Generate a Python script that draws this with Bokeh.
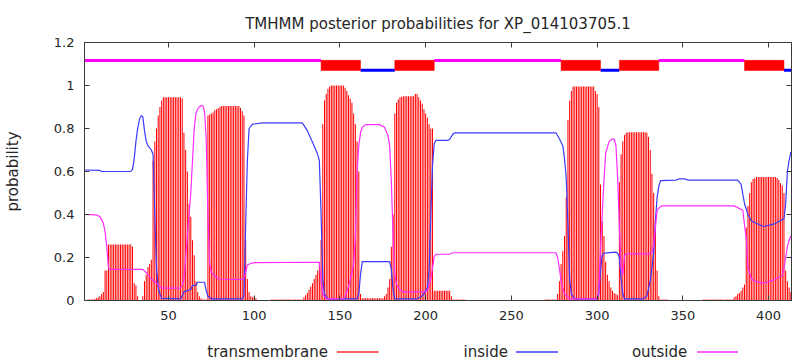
from bokeh.plotting import figure
from bokeh.models import Range1d, LinearAxis, FixedTicker, Label
from bokeh.layouts import column
from bokeh.embed import file_html
from bokeh.resources import INLINE

title_text = "TMHMM posterior probabilities for XP_014103705.1"
seq_len = 413

# posterior probability of transmembrane state, residue 1..413
tm_prob = [
    0.0, 0.0, 0.005, 0.005, 0.005, 0.005, 0.008, 0.01, 0.015, 0.02,
    0.03, 0.04, 0.14, 0.14, 0.26, 0.26, 0.26, 0.26, 0.26, 0.26,
    0.26, 0.26, 0.26, 0.26, 0.26, 0.26, 0.26, 0.26, 0.25, 0.08,
    0.07, 0.02, 0.0, 0.0, 0.02, 0.09, 0.12, 0.155, 0.17, 0.19,
    0.65, 0.74, 0.8, 0.86, 0.9, 0.93, 0.945, 0.945, 0.945, 0.945,
    0.945, 0.945, 0.945, 0.945, 0.945, 0.945, 0.945, 0.94, 0.78, 0.7,
    0.6, 0.45, 0.39, 0.28, 0.21, 0.09, 0.04, 0.02, 0.01, 0.005,
    0.005, 0.005, 0.86, 0.865, 0.87, 0.875, 0.885, 0.89, 0.895, 0.9,
    0.905, 0.905, 0.905, 0.905, 0.905, 0.905, 0.905, 0.905, 0.905, 0.905,
    0.905, 0.895, 0.88, 0.86, 0.28, 0.1, 0.04, 0.02, 0.015, 0.02,
    0.01, 0.002, 0.002, 0.002, 0.002, 0.002, 0.002, 0.002, 0.002, 0.005,
    0.005, 0.005, 0.005, 0.005, 0.005, 0.005, 0.005, 0.005, 0.005, 0.005,
    0.005, 0.005, 0.005, 0.005, 0.005, 0.005, 0.005, 0.005, 0.015, 0.025,
    0.035, 0.05, 0.065, 0.08, 0.1, 0.12, 0.14, 0.17, 0.28, 0.82,
    0.93, 0.96, 0.985, 0.995, 1.0, 1.0, 1.0, 1.0, 1.0, 1.0,
    1.0, 1.0, 0.99, 0.975, 0.955, 0.94, 0.92, 0.87, 0.82, 0.74,
    0.6, 0.03, 0.01, 0.01, 0.01, 0.01, 0.01, 0.01, 0.01, 0.01,
    0.01, 0.01, 0.01, 0.01, 0.01, 0.02, 0.03, 0.06, 0.1, 0.25,
    0.4, 0.87, 0.92, 0.935, 0.945, 0.948, 0.95, 0.95, 0.95, 0.95,
    0.95, 0.95, 0.95, 0.96, 0.96, 0.945, 0.93, 0.915, 0.89, 0.87,
    0.85, 0.82, 0.8, 0.8, 0.045, 0.045, 0.045, 0.045, 0.045, 0.045,
    0.045, 0.045, 0.045, 0.045, 0.02, 0.005, 0.005, 0.005, 0.005, 0.005,
    0.005, 0.005, 0.005, 0.0, 0.0, 0.0, 0.0, 0.0, 0.0, 0.0,
    0.0, 0.0, 0.0, 0.0, 0.0, 0.0, 0.0, 0.0, 0.0, 0.0,
    0.0, 0.0, 0.0, 0.0, 0.0, 0.0, 0.0, 0.0, 0.0, 0.0,
    0.0, 0.0, 0.0, 0.0, 0.0, 0.0, 0.0, 0.0, 0.0, 0.0,
    0.0, 0.0, 0.0, 0.0, 0.0, 0.0, 0.0, 0.0, 0.0, 0.005,
    0.005, 0.005, 0.005, 0.005, 0.005, 0.005, 0.03, 0.09, 0.17, 0.23,
    0.3, 0.48, 0.84, 0.93, 0.975, 0.995, 0.995, 0.995, 0.995, 0.995,
    0.995, 0.995, 0.995, 0.995, 0.995, 0.995, 0.995, 0.995, 0.975, 0.96,
    0.9, 0.54, 0.37, 0.3, 0.18, 0.12, 0.09, 0.06, 0.045, 0.035,
    0.03, 0.025, 0.55, 0.68, 0.74, 0.77, 0.78, 0.783, 0.783, 0.783,
    0.783, 0.783, 0.783, 0.783, 0.783, 0.783, 0.783, 0.783, 0.78, 0.76,
    0.7, 0.59, 0.5, 0.36, 0.14, 0.02, 0.005, 0.005, 0.005, 0.005,
    0.005, 0.0, 0.0, 0.0, 0.0, 0.0, 0.0, 0.0, 0.0, 0.0,
    0.0, 0.0, 0.0, 0.0, 0.0, 0.0, 0.0, 0.0, 0.0, 0.0,
    0.0, 0.005, 0.005, 0.005, 0.005, 0.005, 0.005, 0.005, 0.005, 0.005,
    0.005, 0.005, 0.005, 0.005, 0.005, 0.005, 0.005, 0.005, 0.005, 0.015,
    0.02, 0.03, 0.035, 0.045, 0.06, 0.075, 0.34, 0.44, 0.5, 0.55,
    0.565, 0.57, 0.575, 0.575, 0.575, 0.575, 0.575, 0.575, 0.575, 0.575,
    0.575, 0.575, 0.575, 0.575, 0.57, 0.56, 0.545, 0.535, 0.5, 0.14,
    0.09, 0.06, 0.04,
]
residues = list(range(1, seq_len + 1))

# inside probability curve (vertices)
inside_res = [1, 10, 11, 28, 29, 30, 31, 32, 33, 34, 35, 36, 37, 38, 40, 41, 42, 43, 44, 45, 46,
              57, 58, 59, 61, 63, 64, 66, 67, 71, 72, 73, 75, 93, 94, 95, 96, 97, 99, 105,
              128, 131, 134, 137, 138, 139, 140, 141, 143, 160, 161, 162, 163, 179, 180, 181, 182,
              195, 197, 199, 201, 202, 203, 204, 205, 206, 213, 214, 216, 217, 276, 278, 280, 281,
              282, 283, 284, 285, 287, 300, 301, 302, 303, 304, 311, 312, 313, 314, 315, 316, 327,
              329, 331, 333, 334, 335, 336, 337, 346, 348, 351, 353, 382, 384, 386, 388, 390, 397,
              403, 409, 410, 411, 412, 413]
inside_prob = [0.607, 0.605, 0.6, 0.6, 0.61, 0.66, 0.74, 0.8, 0.84, 0.86, 0.855, 0.79, 0.74, 0.72,
               0.70, 0.68, 0.4, 0.15, 0.06, 0.03, 0.01,
               0.008, 0.02, 0.04, 0.046, 0.05, 0.07, 0.07, 0.085, 0.085, 0.045, 0.02, 0.008, 0.008,
               0.02, 0.35, 0.65, 0.8, 0.82, 0.826,
               0.826, 0.79, 0.736, 0.68, 0.65, 0.4, 0.1, 0.03, 0.008, 0.008, 0.03, 0.12, 0.181,
               0.181, 0.145, 0.05, 0.008,
               0.008, 0.015, 0.03, 0.06, 0.14, 0.4, 0.63, 0.73, 0.745, 0.745, 0.75, 0.775, 0.78,
               0.78, 0.752, 0.72, 0.66,
               0.57, 0.35, 0.1, 0.03, 0.008, 0.008, 0.03, 0.14, 0.21, 0.22, 0.225, 0.22, 0.2, 0.1,
               0.03, 0.008, 0.008,
               0.02, 0.09, 0.22, 0.37, 0.48, 0.53, 0.558, 0.56, 0.566, 0.566, 0.56, 0.56, 0.54,
               0.45, 0.4, 0.37, 0.344,
               0.355, 0.38, 0.45, 0.6, 0.65, 0.69]

# outside probability curve (vertices)
outside_res = [1, 8, 10, 12, 13, 14, 15, 16, 35, 37, 40, 43, 45, 46, 57, 58, 59, 60, 61, 62, 63, 64,
               65, 66, 67, 68, 69, 70, 71, 72, 73, 74, 75, 77, 79, 93, 94, 95, 96, 98, 100, 138,
               139, 140, 142, 152, 153, 155, 157, 158, 159, 160, 161, 162, 163, 165, 173, 176, 178,
               179, 180, 181, 182, 183, 185, 187, 198, 201, 203, 204, 205, 206, 214, 216, 276, 277,
               278, 279, 281, 283, 284, 300, 301, 302, 303, 304, 305, 307, 309, 310, 311, 312, 313,
               314, 315, 316, 317, 330, 332, 333, 334, 335, 337, 338, 380, 385, 386, 387, 388, 390,
               392, 397, 403, 408, 409, 410, 411, 412, 413]
outside_prob = [0.4, 0.398, 0.39, 0.36, 0.32, 0.25, 0.15, 0.145, 0.145, 0.13, 0.1, 0.08, 0.065,
                0.058, 0.058, 0.07, 0.1, 0.2, 0.3, 0.4, 0.5, 0.65,
                0.8, 0.87, 0.89, 0.9, 0.907, 0.905, 0.88, 0.75, 0.4, 0.17, 0.13, 0.115, 0.1, 0.097,
                0.105, 0.13, 0.165, 0.172, 0.176, 0.178,
                0.09, 0.03, 0.008, 0.01, 0.02, 0.065, 0.13, 0.17, 0.3, 0.6, 0.72, 0.78, 0.806,
                0.818, 0.818, 0.806, 0.767,
                0.72, 0.55, 0.3, 0.12, 0.075, 0.05, 0.04, 0.04, 0.045, 0.1, 0.15, 0.205, 0.215,
                0.216, 0.222, 0.222, 0.2,
                0.15, 0.09, 0.03, 0.015, 0.008, 0.008, 0.045, 0.25, 0.4, 0.56, 0.685, 0.74, 0.752,
                0.75, 0.72, 0.57, 0.34,
                0.15, 0.12, 0.21, 0.217, 0.217, 0.225, 0.26, 0.34, 0.42, 0.437, 0.44, 0.44, 0.42,
                0.35, 0.29, 0.155, 0.1,
                0.09, 0.08, 0.095, 0.116, 0.15, 0.2, 0.25, 0.28, 0.3]

# predicted topology
tm_start = [139, 182, 279, 313, 386]
tm_end = [161, 204, 301, 335, 408]
inside_start = [162, 302, 409]
inside_end = [181, 312, 413]
outside_start = [1, 205, 336]
outside_end = [138, 278, 385]

x_ticks = [50, 100, 150, 200, 250, 300, 350, 400]
y_ticks = [0, 0.2, 0.4, 0.6, 0.8, 1, 1.2]
y_tick_labels = ["0", "0.2", "0.4", "0.6", "0.8", "1", "1.2"]
legend_labels = ["transmembrane", "inside", "outside"]

FONT = "DejaVu Sans"
TXT = "#262626"
BORDER = "#3a3a3a"
RED = "#ff0000"
BLUE = "#3a3aff"
MAGENTA = "#ff2cff"

p = figure(width=793, height=324, x_range=Range1d(1, 413.4), y_range=Range1d(0, 1.2),
           output_backend="svg", toolbar_location=None, title=title_text,
           min_border_left=84, min_border_right=2, min_border_top=42, min_border_bottom=24)
p.background_fill_color = "white"
p.border_fill_color = "white"
p.grid.visible = False
p.outline_line_color = BORDER
p.outline_line_width = 1

p.title.text_font = FONT
p.title.text_font_size = "15px"
p.title.text_font_style = "normal"
p.title.text_color = TXT
p.title.align = "center"
p.title.standoff = 19

# impulses for transmembrane probability
p.vbar(x=residues, top=tm_prob, bottom=0, width=0.6, fill_color=RED, line_color=None)
p.line(inside_res, inside_prob, line_color=BLUE, line_width=1.2)
p.line(outside_res, outside_prob, line_color=MAGENTA, line_width=1.2)

# topology bars at top
p.segment(x0=outside_start, x1=[e + 1 for e in outside_end], y0=[1.116] * len(outside_start),
          y1=[1.116] * len(outside_start), line_color="#ff00ff", line_width=3)
p.segment(x0=inside_start, x1=[e + 1 for e in inside_end], y0=[1.071] * len(inside_start),
          y1=[1.071] * len(inside_start), line_color="#0000ff", line_width=3)
p.quad(left=tm_start, right=[e + 1 for e in tm_end], bottom=[1.07] * len(tm_start),
       top=[1.117] * len(tm_start), fill_color=RED, line_color=RED, line_width=0.5)

xa = p.xaxis[0]
xa.ticker = FixedTicker(ticks=x_ticks)
ya = p.yaxis[0]
ya.ticker = FixedTicker(ticks=y_ticks)
ya.major_label_overrides = {t: l for t, l in zip(y_ticks, y_tick_labels)}
ya.axis_label = "probability"
ya.axis_label_text_font = FONT
ya.axis_label_text_font_size = "15px"
ya.axis_label_text_font_style = "normal"
ya.axis_label_text_color = TXT
ya.axis_label_standoff = 29
for ax in (xa, ya):
    ax.major_tick_in = 5
    ax.major_tick_out = 0
    ax.minor_tick_line_color = None
    ax.axis_line_color = BORDER
    ax.major_tick_line_color = BORDER
    ax.major_label_text_font = FONT
    ax.major_label_text_font_size = "13px"
    ax.major_label_text_color = TXT
    ax.major_label_standoff = 10

# mirror ticks on top and right border (no labels)
top_ax = LinearAxis(ticker=FixedTicker(ticks=x_ticks))
right_ax = LinearAxis(ticker=FixedTicker(ticks=y_ticks))
for ax in (top_ax, right_ax):
    ax.major_tick_in = 5
    ax.major_tick_out = 0
    ax.minor_tick_line_color = None
    ax.axis_line_color = BORDER
    ax.major_tick_line_color = BORDER
    ax.major_label_text_font_size = "1px"
    ax.major_label_text_color = None
    ax.major_label_standoff = 0
p.add_layout(top_ax, "above")
p.add_layout(right_ax, "right")

# legend row (gnuplot style: label then line sample)
leg = figure(width=793, height=39, x_range=Range1d(0, 793), y_range=Range1d(39, 0),
             output_backend="svg", toolbar_location=None, x_axis_type=None, y_axis_type=None,
             min_border_left=0, min_border_right=0, min_border_top=0, min_border_bottom=0)
leg.outline_line_color = None
leg.grid.visible = False
label_right = [273, 475, 676]
for lx, lab in zip(label_right, legend_labels):
    leg.add_layout(Label(x=lx, y=27, x_units="data", y_units="data", text=lab,
                         text_align="right", text_baseline="middle", text_font=FONT,
                         text_font_size="15px", text_color=TXT))
leg.segment(x0=[283, 484, 687], x1=[330, 531, 733], y0=[27.5, 27.5, 27.5],
            y1=[27.5, 27.5, 27.5], line_color=["#ff3030", BLUE, MAGENTA], line_width=1.3)

layout = column(p, leg, spacing=0)
open("out.html", "w").write(file_html(layout, INLINE))
